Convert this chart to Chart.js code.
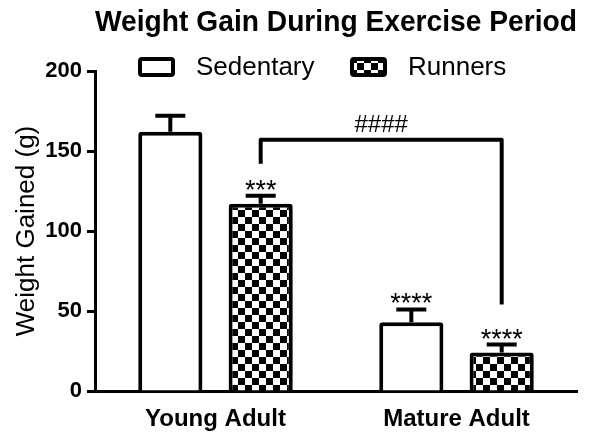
<!DOCTYPE html>
<html>
<head>
<meta charset="utf-8">
<style>
  html, body { margin: 0; padding: 0; background: #fff; }
  #wrap { width: 608px; height: 440px; }
</style>
<script src="https://cdn.jsdelivr.net/npm/chart.js@4/dist/chart.umd.min.js"></script>
</head>
<body>
<div id="wrap"><canvas id="weightChart" width="608" height="440"></canvas></div>
<script>
// chart values
const groups = ['Young Adult', 'Mature Adult'];
const sedentaryMeans = [162, 43];
const runnersMeans = [117, 24];
const sedentaryErr = [10, 8];
const runnersErr = [5, 5];
const sedentaryStars = ['', '****'];
const runnersStars = ['***', '****'];
const yTicks = [0, 50, 100, 150, 200];
// bracket between the two runner groups (in g)
const bracketLevel = 157;
const bracketEnds = [142, 54];
const bracketLabel = '####';

const FONT = '"Liberation Sans", Arial, sans-serif';

const makeChecker = () => {
    const c = document.createElement('canvas');
    c.width = 14;
    c.height = 14;
    const g = c.getContext('2d');
    g.fillStyle = '#fff';
    g.fillRect(0, 0, 14, 14);
    g.fillStyle = '#000';
    g.fillRect(0, 0, 7, 7);
    g.fillRect(7, 7, 7, 7);
    return g.createPattern(c, 'repeat');
};

const checker = makeChecker();

const annotations = {
    id: 'annotations',
    afterDatasetsDraw(chart) {
        const ctx = chart.ctx;
        const y = chart.scales.y;
        const errs = [sedentaryErr, runnersErr];
        const means = [sedentaryMeans, runnersMeans];
        const stars = [sedentaryStars, runnersStars];

        ctx.save();
        ctx.strokeStyle = '#000';
        ctx.fillStyle = '#000';
        ctx.lineWidth = 4;
        ctx.lineCap = 'butt';

        // error bars + stars
        chart.data.datasets.forEach((ds, di) => {
            const meta = chart.getDatasetMeta(di);
            meta.data.forEach((bar, i) => {
                const top = y.getPixelForValue(means[di][i] + errs[di][i]);
                ctx.beginPath();
                ctx.moveTo(bar.x, bar.y);
                ctx.lineTo(bar.x, top);
                ctx.moveTo(bar.x - 15, top);
                ctx.lineTo(bar.x + 15, top);
                ctx.stroke();

                if (stars[di][i]) {
                    ctx.font = `27px ${FONT}`;
                    ctx.textAlign = 'center';
                    ctx.textBaseline = 'alphabetic';
                    ctx.fillText(stars[di][i], bar.x, top + 3);
                }
            });
        });

        // bracket
        const runMeta = chart.getDatasetMeta(1);
        const x1 = runMeta.data[0].x;
        const x2 = runMeta.data[1].x;
        const yTop = y.getPixelForValue(bracketLevel);
        ctx.lineJoin = 'round';
        ctx.beginPath();
        ctx.moveTo(x1, y.getPixelForValue(bracketEnds[0]));
        ctx.lineTo(x1, yTop);
        ctx.lineTo(x2, yTop);
        ctx.lineTo(x2, y.getPixelForValue(bracketEnds[1]));
        ctx.stroke();

        ctx.font = `24px ${FONT}`;
        ctx.textAlign = 'center';
        ctx.textBaseline = 'alphabetic';
        ctx.fillText(bracketLabel, (x1 + x2) / 2, yTop - 8);
        ctx.restore();
    },
    afterDraw(chart) {
        // legend
        const ctx = chart.ctx;
        const spots = [138, 350];
        ctx.save();
        chart.data.datasets.forEach((ds, di) => {
            const bx = spots[di];
            ctx.fillStyle = ds.backgroundColor;
            ctx.strokeStyle = '#000';
            ctx.lineWidth = 4;
            ctx.beginPath();
            ctx.roundRect(bx + 2, 59, 33, 16, 2);
            ctx.fill();
            ctx.stroke();
            ctx.fillStyle = '#000';
            ctx.font = `26px ${FONT}`;
            ctx.textAlign = 'left';
            ctx.textBaseline = 'middle';
            ctx.fillText(ds.label, bx + 58, 68);
        });
        ctx.restore();
    }
};

const ctx = document.getElementById('weightChart').getContext('2d');

new Chart(ctx, {
    type: 'bar',
    data: {
        labels: groups,
        datasets: [{
            label: 'Sedentary',
            data: sedentaryMeans,
            backgroundColor: '#fff',
            borderColor: '#000',
            borderWidth: 4,
            borderRadius: 3,
            borderSkipped: 'start'
        }, {
            label: 'Runners',
            data: runnersMeans,
            backgroundColor: checker,
            borderColor: '#000',
            borderWidth: 4,
            borderRadius: 3,
            borderSkipped: 'start'
        }]
    },
    options: {
        responsive: false,
        animation: false,
        categoryPercentage: 0.75,
        barPercentage: 0.71,
        layout: {
            padding: { left: 0, right: 31, top: 0, bottom: 0 }
        },
        plugins: {
            legend: { display: false },
            tooltip: { enabled: false },
            title: {
                display: true,
                text: 'Weight Gain During Exercise Period',
                fullSize: false,
                color: '#000',
                font: { family: FONT, size: 30, weight: 'bold' },
                padding: { top: 5, bottom: 30 }
            }
        },
        scales: {
            x: {
                grid: { display: false, drawTicks: false },
                border: { display: true, color: '#000', width: 3 },
                ticks: {
                    color: '#000',
                    padding: 14,
                    font: { family: FONT, size: 24, weight: 'bold' }
                },
                afterFit: (scale) => { scale.height = 49; }
            },
            y: {
                min: 0,
                max: 200,
                afterBuildTicks: (scale) => {
                    scale.ticks = yTicks.map(v => ({ value: v }));
                },
                grid: {
                    drawOnChartArea: false,
                    drawTicks: true,
                    tickLength: 8,
                    tickWidth: 3,
                    tickColor: '#000'
                },
                border: { display: true, color: '#000', width: 3 },
                ticks: {
                    color: '#000',
                    padding: 5,
                    font: { family: FONT, size: 22, weight: 'bold' }
                },
                title: {
                    display: true,
                    text: 'Weight Gained (g)',
                    color: '#000',
                    font: { family: FONT, size: 26 },
                    padding: { top: 11, bottom: 0 }
                },
                afterFit: (scale) => { scale.width = 95; }
            }
        }
    },
    plugins: [annotations]
});
</script>
</body>
</html>
